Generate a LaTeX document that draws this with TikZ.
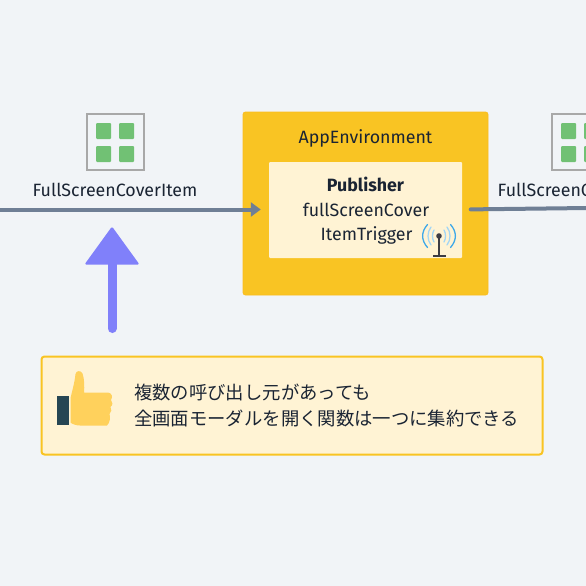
\documentclass[tikz,border=0pt]{standalone}
\usepackage{fontspec}
\setmainfont{Fira Sans}
\newfontfamily\jpfont{Noto Sans CJK JP}
\usetikzlibrary{arrows.meta}
\definecolor{bgc}{HTML}{F1F4F7}
\definecolor{amber}{HTML}{F9C423}
\definecolor{cream}{HTML}{FFF3D4}
\definecolor{slateline}{HTML}{6F7F95}
\definecolor{violetc}{HTML}{8080FA}
\definecolor{inkc}{HTML}{1A2433}
\definecolor{iconframe}{HTML}{A8A8A8}
\definecolor{cellc}{HTML}{71C174}
\definecolor{thumbc}{HTML}{FFD15C}
\definecolor{cuffc}{HTML}{264653}
\definecolor{mastc}{HTML}{3C3C44}
\definecolor{waveo}{HTML}{3FA9E8}
\definecolor{wavei}{HTML}{A3D6F5}
\tikzset{
  x=1pt,y=-1pt,
  lab/.style={text=inkc,inner sep=0pt,font=\fontsize{17.8}{20}\selectfont,anchor=base},
  conn/.style={draw=slateline,line width=4pt},
  frame/.style={draw=iconframe,line width=2.6pt,fill=bgc},
  cell/.style={fill=cellc,rounded corners=1pt},
  wave/.style={line width=1.3pt,line cap=round},
}
\begin{document}
\begin{tikzpicture}
\useasboundingbox (0,0) rectangle (586,586);
\fill[bgc] (0,0) rectangle (586,586);
% left grid icon
\draw[frame] (87,114) rectangle (144,170);
\foreach \xa in {96,119} \foreach \ya in {123,146}
  \fill[cell] (\xa,\ya) rectangle ++(15,16);
\node[lab] (leftlabel) at (115,196) {FullScreenCoverItem};
% right grid icon
\begin{scope}
\clip (0,0) rectangle (586,586);
\draw[frame] (552,114) rectangle (609,170);
\foreach \xa in {561,584} \foreach \ya in {123,146}
  \fill[cell] (\xa,\ya) rectangle ++(15,16);
\node[lab,anchor=base west] (rightlabel) at (497.5,196) {FullScreenCoverItem};
\end{scope}
% environment
\node[draw=amber!90!orange,fill=amber,line width=0.8pt,rounded corners=2.5pt,minimum width=245pt,minimum height=183pt,inner sep=0pt] (env) at (365.5,203.5) {};
\node[fill=cream,rounded corners=1pt,minimum width=193pt,minimum height=96pt,inner sep=0pt] (pub) at (365.5,210) {};
\node[lab] (envlabel) at (365.5,143) {AppEnvironment};
\node[lab,font=\fontsize{17.8}{20}\selectfont\bfseries] (publabel) at (365.5,191.7) {Publisher};
\node[lab] (fslabel) at (366,216) {fullScreenCover};
\node[lab] (triglabel) at (366.5,240.7) {ItemTrigger};
% connectors
\coordinate (leftend) at (-2,209.5);
\coordinate (rightend) at (588,208);
\draw[conn,-{Triangle[length=10pt,width=14pt]},shorten >=8pt] (leftend) -- (pub.west|-leftend);
\draw[conn,line cap=round,shorten <=8.5pt] (pub.east|-leftend) -- (rightend);
% antenna
\draw[mastc,line width=1.8pt] (439,236) -- (439,256);
\draw[mastc,line width=1.8pt] (433,256.2) -- (446,256.2);
\fill[mastc] (439,236) circle (2.8);
\draw[wave,draw=wavei] (434,230) .. controls (432,233) and (432,239) .. (434,242);
\draw[wave,draw=wavei] (431,227) .. controls (427,232) and (427,240) .. (431,245);
\draw[wave,draw=waveo] (427.5,224.5) .. controls (421,232) and (421,240) .. (427.5,247.5);
\draw[wave,draw=wavei] (444,230) .. controls (446,233) and (446,239) .. (444,242);
\draw[wave,draw=wavei] (447,227) .. controls (451,232) and (451,240) .. (447,245);
\draw[wave,draw=waveo] (450.5,224.5) .. controls (457,232) and (457,240) .. (450.5,247.5);
% purple arrow
\fill[violetc,rounded corners=1.5pt] (112,226.5) -- (139.5,264.5) -- (84.5,264.5) -- cycle;
\draw[violetc,line width=9pt,line cap=round] (112,260) -- (112,328.5);
% note
\node[draw=amber,fill=cream,line width=2pt,rounded corners=3pt,minimum width=501pt,minimum height=98pt,inner sep=0pt] (note) at (292,405.5) {};
\node[text=inkc,inner sep=0pt,anchor=west,font=\jpfont\fontsize{18.35}{26}\selectfont] (noteone) at (134,392) {複数の呼び出し元があっても};
\node[text=inkc,inner sep=0pt,anchor=west,font=\jpfont\fontsize{18.35}{26}\selectfont] (notetwo) at (134,418) {全画面モーダルを開く関数は一つに集約できる};
% thumb
\fill[cuffc] (56.7,395.7) rectangle (69.3,425.3);
\fill[thumbc] (70.5,398) .. controls (73,388) and (75,380) .. (75.5,374)
  .. controls (76,370.5) and (81,370) .. (82.5,373.5)
  .. controls (84.5,379) and (84.5,387) .. (84,392.5)
  -- (108,392.5) .. controls (112,393) and (113,397) .. (111,400)
  .. controls (113,402) and (113,405) .. (110.5,407)
  .. controls (112,409.5) and (111.5,412) .. (109.5,414)
  .. controls (110.5,417) and (110,423) .. (107,425.5)
  -- (80,425.5) .. controls (76,425.5) and (72,424) .. (70.5,422.5) -- cycle;
\end{tikzpicture}
\end{document}
